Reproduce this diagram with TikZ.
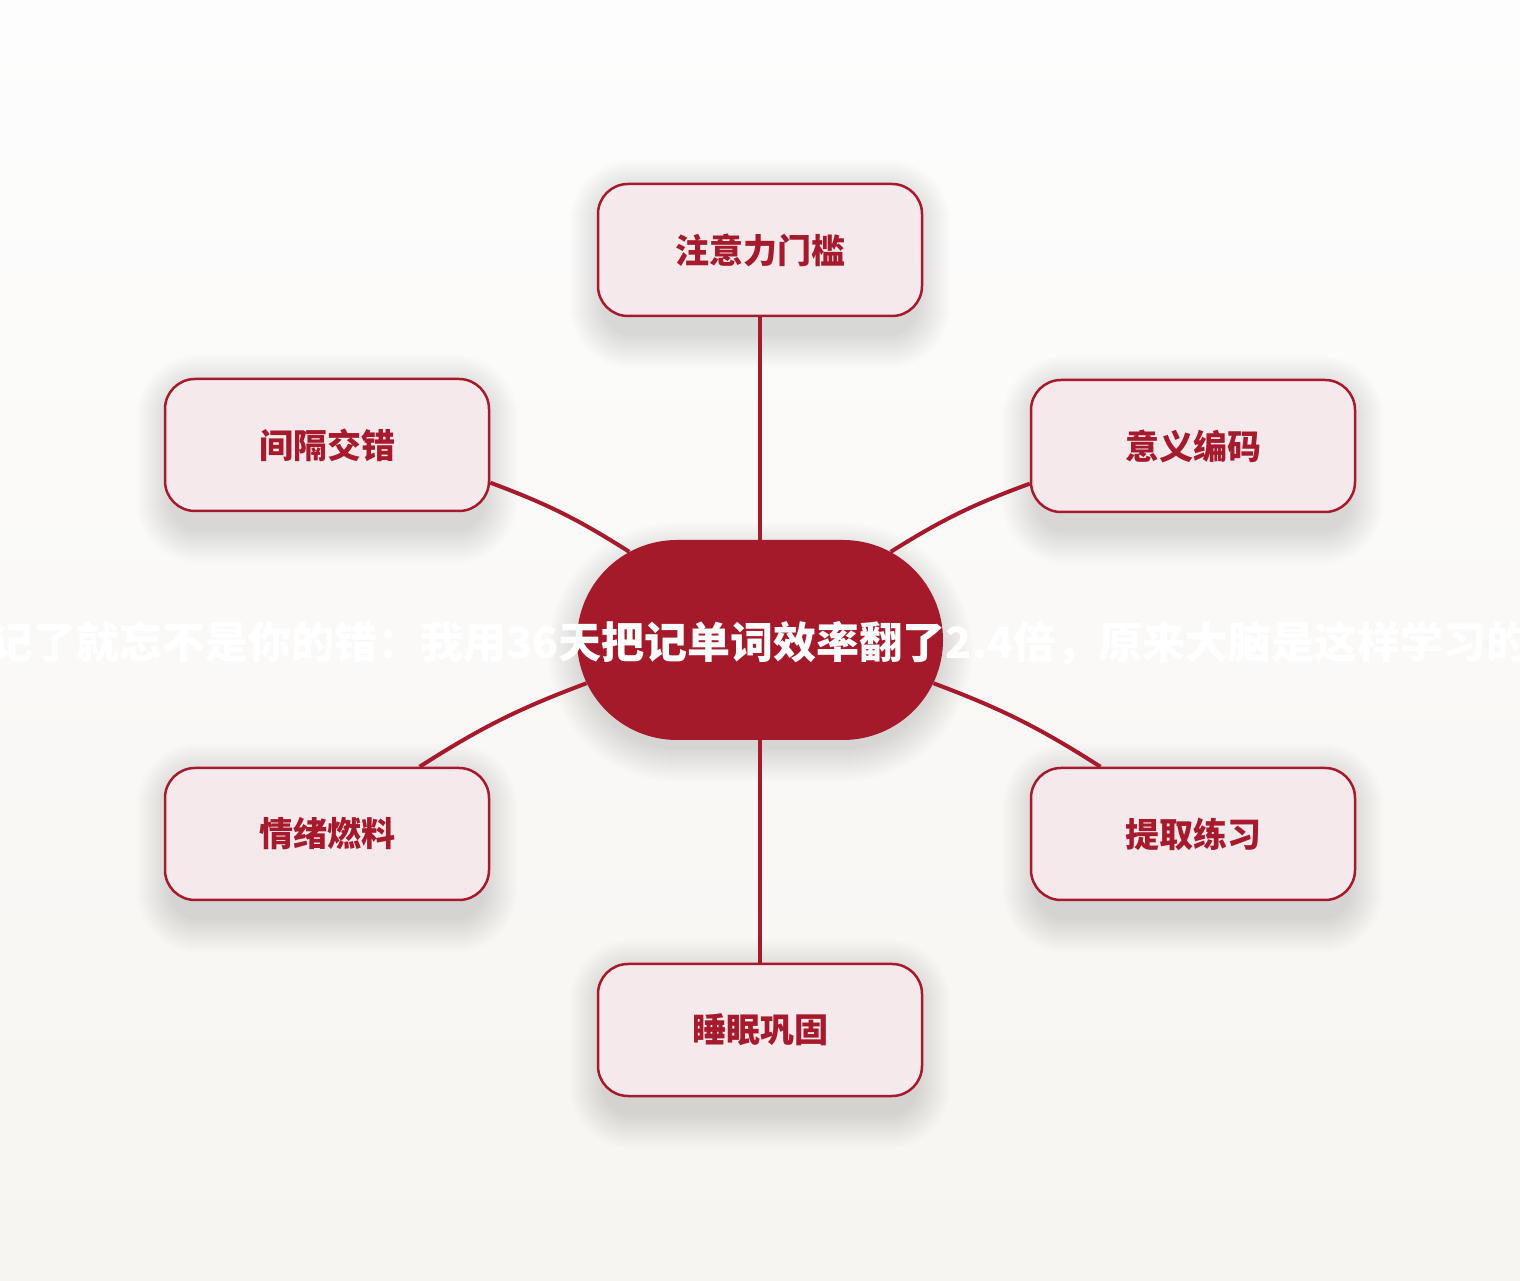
\documentclass[tikz,border=0pt]{standalone}
\usepackage{fontspec}
\setmainfont{Noto Sans CJK SC}
\usetikzlibrary{shapes.misc,calc}
\definecolor{accent}{HTML}{A51B2D}
\definecolor{hubred}{HTML}{A41A2A}
\definecolor{boxfill}{HTML}{F5E9EC}
\definecolor{bgtop}{HTML}{FDFDFD}
\definecolor{bgbot}{HTML}{F7F5F1}
\pgfdeclarelayer{back}
\pgfsetlayers{back,main}
\tikzset{
  leaf/.style={draw=accent, line width=2.5pt, fill=boxfill, rounded corners=30pt,
    minimum width=324pt, minimum height=132pt, text=accent,
    font=\fontsize{34}{34}\selectfont\bfseries},
  hub/.style={rounded rectangle, fill=hubred, minimum width=366pt,
    minimum height=200pt, inner sep=0pt},
  titletext/.style={text=white, font=\fontsize{43}{43}\selectfont\bfseries, inner sep=0pt},
  link/.style={draw=accent, line width=4pt},
  shadowlayer/.style={fill=black, opacity=0.0055},
}
\begin{document}
\begin{tikzpicture}[x=1pt,y=1pt]
\useasboundingbox (0,0) rectangle (1520,1280);
\node[hub] (hub) at (760,640) {};
\node[leaf] (attn)  at (760,1030) {注意力门槛};
\node[leaf] (mean)  at (1193,834) {意义编码};
\node[leaf] (gap)   at (327,835) {间隔交错};
\node[leaf] (emo)   at (327,446) {情绪燃料};
\node[leaf] (recall) at (1193,446) {提取练习};
\node[leaf] (sleep) at (760,250) {睡眠巩固};
\node[titletext] (title) at (760,637) {记了就忘不是你的错：我用36天把记单词效率翻了2.4倍，原来大脑是这样学习的};
\begin{pgfonlayer}{back}
  \shade[top color=bgtop, bottom color=bgbot] (0,0) rectangle (1520,1280);
  \foreach \n in {attn,mean,gap,emo,recall,sleep}{
    \foreach \i in {0,...,34}{
      \pgfmathsetmacro\rr{30+\i}
      \fill[shadowlayer,rounded corners=\rr pt]
        ($(\n.south west)+(-\i+6,-\i-18)$) rectangle ($(\n.north east)+(\i-6,\i-10)$);
    }
  }
  \foreach \i in {0,...,34}{
    \pgfmathsetmacro\hh{100+\i-4}
    \fill[shadowlayer]
      ($(hub.center)+(-83,-\hh-12)$) -- ++(166,0)
      arc[start angle=-90,end angle=90,radius=\hh] -- ++(-166,0)
      arc[start angle=90,end angle=270,radius=\hh] -- cycle;
  }
  \draw[link] (hub.north) -- (attn.south);
  \draw[link] (hub.south) -- (sleep.north);
  \draw[link] (hub.146) to[bend right=6] (gap.-13);
  \draw[link] (hub.34) to[bend left=6] (mean.193);
  \draw[link] (hub.194) to[bend right=6] (emo.36);
  \draw[link] (hub.-14) to[bend left=6] (recall.144);
\end{pgfonlayer}
\end{tikzpicture}
\end{document}
